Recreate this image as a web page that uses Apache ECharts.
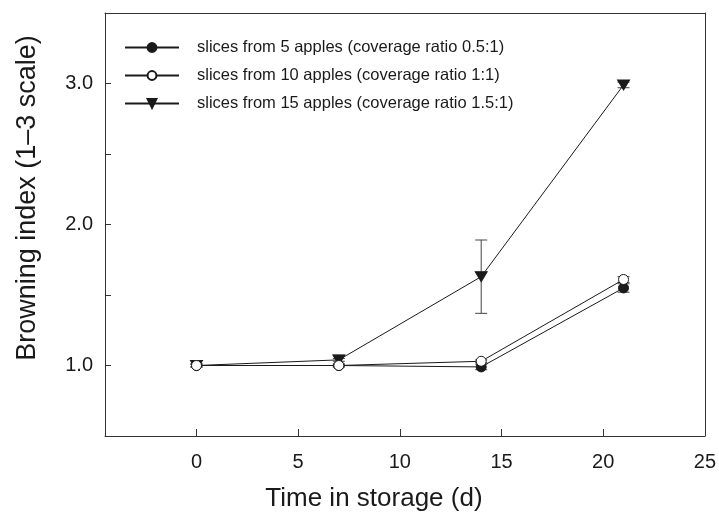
<!DOCTYPE html>
<html>
<head>
<meta charset="utf-8">
<script src="https://cdn.jsdelivr.net/npm/echarts@6/dist/echarts.min.js"></script>
<style>
  html, body { margin: 0; padding: 0; background: #fff; }
  #chart { width: 719px; height: 517px; }
</style>
</head>
<body>
<div id="chart"></div>
<script>
// storage days
const days = [0, 7, 14, 21];

// browning index means and error (± half bar)
const apples5 = [1.00, 1.00, 0.99, 1.55];
const apples5Err = [0.01, 0.01, 0.02, 0.03];
const apples10 = [1.00, 1.00, 1.03, 1.61];
const apples10Err = [0.01, 0.01, 0.01, 0.02];
const apples15 = [1.00, 1.04, 1.63, 2.99];
const apples15Err = [0.01, 0.01, 0.26, 0.02];

const seriesNames = [
  'slices from 5 apples (coverage ratio 0.5:1)',
  'slices from 10 apples (coverage ratio 1:1)',
  'slices from 15 apples (coverage ratio 1.5:1)'
];

const xTicks = [0, 5, 10, 15, 20, 25];
const yLabels = [1, 2, 3];
const yTicks = [1, 1.5, 2, 2.5, 3];

const FONT = "'Liberation Sans', Arial, sans-serif";
const INK = '#1a1a1a';
const FRAME = '#333';

const pairs = (ys) => days.map((d, i) => [d, ys[i]]);
const errRows = (ys, es) => days.map((d, i) => [d, ys[i] - es[i], ys[i] + es[i]]);

function errorBar(color) {
  return function (params, api) {
    const x = api.value(0);
    const lo = api.coord([x, api.value(1)]);
    const hi = api.coord([x, api.value(2)]);
    const cap = 6;
    const style = { stroke: color, lineWidth: 1 };
    return {
      type: 'group',
      children: [
        { type: 'line', shape: { x1: lo[0], y1: lo[1], x2: hi[0], y2: hi[1] }, style },
        { type: 'line', shape: { x1: lo[0] - cap, y1: lo[1], x2: lo[0] + cap, y2: lo[1] }, style },
        { type: 'line', shape: { x1: hi[0] - cap, y1: hi[1], x2: hi[0] + cap, y2: hi[1] }, style }
      ]
    };
  };
}

// plain frame axes for the top and right edges
const frameAxis = {
  type: 'value',
  axisLine: { show: true, onZero: false, lineStyle: { color: FRAME, width: 1 } },
  axisTick: { show: false },
  axisLabel: { show: false },
  splitLine: { show: false }
};

const chart = echarts.init(document.getElementById('chart'));
chart.setOption({
  animation: false,
  backgroundColor: '#fff',
  grid: { left: 105, right: 13, top: 13, bottom: 81 },
  legend: {
    orient: 'vertical',
    left: 124,
    top: 39,
    padding: 0,
    itemWidth: 54,
    itemHeight: 11,
    itemGap: 11,
    data: seriesNames,
    textStyle: { fontFamily: FONT, fontSize: 16.5, color: INK, padding: [0, 0, 0, 13] }
  },
  xAxis: [
    {
      type: 'value',
      min: -4.5,
      max: 25,
      name: 'Time in storage (d)',
      nameLocation: 'middle',
      nameGap: 50,
      nameTextStyle: { fontFamily: FONT, fontSize: 26, color: INK, padding: [0, 62, 0, 0] },
      axisLine: { onZero: false, lineStyle: { color: FRAME, width: 1 } },
      axisTick: { inside: true, length: 7, customValues: xTicks, lineStyle: { color: FRAME } },
      axisLabel: { customValues: xTicks, margin: 16, fontFamily: FONT, fontSize: 20, color: INK },
      splitLine: { show: false }
    },
    Object.assign({ position: 'top', min: -4.5, max: 25 }, frameAxis)
  ],
  yAxis: [
    {
      type: 'value',
      min: 0.5,
      max: 3.5,
      interval: 0.5,
      name: 'Browning index (1\u20133 scale)',
      nameLocation: 'middle',
      nameGap: 64,
      nameTextStyle: { fontFamily: FONT, fontSize: 27, color: INK, padding: [0, 0, 0, 53] },
      axisLine: { onZero: false, lineStyle: { color: FRAME, width: 1 } },
      axisTick: { inside: true, length: 6, customValues: yTicks, lineStyle: { color: FRAME } },
      axisLabel: {
        customValues: yLabels, margin: 12, fontFamily: FONT, fontSize: 20, color: INK,
        formatter: (v) => v.toFixed(1)
      },
      splitLine: { show: false }
    },
    Object.assign({ position: 'right', min: 0.5, max: 3.5 }, frameAxis)
  ],
  series: [
    {
      type: 'custom', name: 'err5', renderItem: errorBar('#444'),
      data: errRows(apples5, apples5Err), z: 1, silent: true
    },
    {
      type: 'custom', name: 'err10', renderItem: errorBar('#444'),
      data: errRows(apples10, apples10Err), z: 1, silent: true
    },
    {
      type: 'custom', name: 'err15', renderItem: errorBar('#444'),
      data: errRows(apples15, apples15Err), z: 1, silent: true
    },
    {
      name: seriesNames[0], type: 'line', data: pairs(apples5),
      symbol: 'circle', symbolSize: 10,
      lineStyle: { color: INK, width: 1 },
      itemStyle: { color: INK, borderColor: INK, borderWidth: 1 },
      z: 3
    },
    {
      name: seriesNames[1], type: 'line', data: pairs(apples10),
      symbol: 'circle', symbolSize: 10,
      lineStyle: { color: INK, width: 1 },
      itemStyle: { color: '#fff', borderColor: INK, borderWidth: 1 },
      z: 4
    },
    {
      name: seriesNames[2], type: 'line', data: pairs(apples15),
      symbol: 'triangle', symbolRotate: 180, symbolSize: [12, 10],
      lineStyle: { color: INK, width: 1 },
      itemStyle: { color: INK, borderColor: INK, borderWidth: 1 },
      z: 2
    }
  ]
});
</script>
</body>
</html>
